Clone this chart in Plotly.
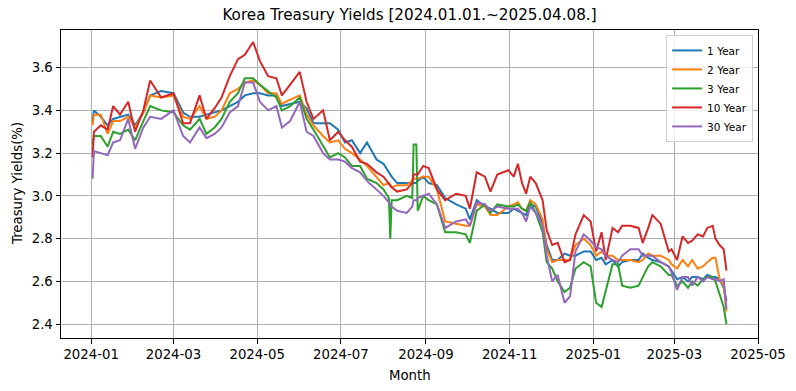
import plotly.graph_objects as go

dates = [
    "2024-01-02", "2024-01-03", "2024-01-08", "2024-01-13", "2024-01-17", "2024-01-22", "2024-01-28",
    "2024-02-02", "2024-02-08", "2024-02-13", "2024-02-21", "2024-03-01", "2024-03-08", "2024-03-13",
    "2024-03-20", "2024-03-25", "2024-03-31", "2024-04-05", "2024-04-11", "2024-04-17", "2024-04-22",
    "2024-04-28", "2024-05-03", "2024-05-09", "2024-05-15", "2024-05-19", "2024-05-25", "2024-06-01",
    "2024-06-06", "2024-06-11", "2024-06-18", "2024-06-23", "2024-06-29", "2024-07-04", "2024-07-09",
    "2024-07-15", "2024-07-20", "2024-07-27", "2024-08-01", "2024-08-05", "2024-08-06", "2024-08-07",
    "2024-08-11", "2024-08-18", "2024-08-22", "2024-08-23", "2024-08-25", "2024-08-26", "2024-08-30",
    "2024-09-03", "2024-09-09", "2024-09-15", "2024-09-23", "2024-09-30", "2024-10-03", "2024-10-08",
    "2024-10-14", "2024-10-18", "2024-10-23", "2024-10-31", "2024-11-04", "2024-11-07", "2024-11-10",
    "2024-11-13", "2024-11-16", "2024-11-20", "2024-11-25", "2024-11-28", "2024-12-02", "2024-12-06",
    "2024-12-11", "2024-12-15", "2024-12-19", "2024-12-25", "2024-12-30", "2025-01-03", "2025-01-07",
    "2025-01-10", "2025-01-15", "2025-01-19", "2025-01-22", "2025-01-28", "2025-02-03", "2025-02-06",
    "2025-02-10", "2025-02-13", "2025-02-19", "2025-02-25", "2025-02-27", "2025-03-03", "2025-03-07",
    "2025-03-11", "2025-03-14", "2025-03-18", "2025-03-22", "2025-03-25", "2025-03-29", "2025-03-31",
    "2025-04-03", "2025-04-06", "2025-04-08",
]

y1 = [3.35, 3.40, 3.37, 3.33, 3.36, 3.37, 3.38, 3.33, 3.39, 3.47, 3.49, 3.48, 3.39, 3.37, 3.37, 3.38, 3.39,
      3.40, 3.42, 3.44, 3.47, 3.48, 3.48, 3.47, 3.47, 3.42, 3.43, 3.44, 3.41, 3.34, 3.34, 3.34, 3.31, 3.25,
      3.26, 3.20, 3.25, 3.17, 3.15, 3.11, 3.10, 3.09, 3.06, 3.06, 3.06, 3.06, 3.06, 3.07, 3.09, 3.06, 3.05,
      2.99, 2.96, 2.94, 2.89, 2.98, 2.95, 2.94, 2.92, 2.92, 2.94, 2.93, 2.92, 2.91, 2.96, 2.95, 2.87, 2.77,
      2.70, 2.70, 2.73, 2.72, 2.72, 2.74, 2.74, 2.70, 2.71, 2.68, 2.70, 2.67, 2.69, 2.70, 2.70, 2.73, 2.71,
      2.70, 2.69, 2.67, 2.65, 2.61, 2.62, 2.60, 2.62, 2.62, 2.61, 2.63, 2.62, 2.62, 2.61, 2.57, 2.51]
y2 = [3.33, 3.38, 3.38, 3.29, 3.35, 3.35, 3.37, 3.32, 3.39, 3.47, 3.46, 3.47, 3.37, 3.36, 3.42, 3.36, 3.37,
      3.40, 3.48, 3.50, 3.53, 3.54, 3.52, 3.48, 3.48, 3.43, 3.45, 3.47, 3.38, 3.33, 3.28, 3.25, 3.26, 3.22,
      3.20, 3.17, 3.14, 3.09, 3.05, 3.06, 3.05, 3.04, 3.05, 3.05, 3.07, 3.08, 3.08, 3.08, 3.09, 3.09, 3.03,
      2.88, 2.87, 2.86, 2.86, 2.96, 2.95, 2.91, 2.91, 2.95, 2.96, 2.97, 2.94, 2.93, 2.98, 2.96, 2.89, 2.75,
      2.69, 2.70, 2.70, 2.70, 2.77, 2.80, 2.77, 2.72, 2.74, 2.72, 2.72, 2.70, 2.70, 2.70, 2.69, 2.70, 2.73,
      2.72, 2.72, 2.70, 2.68, 2.66, 2.70, 2.67, 2.70, 2.66, 2.67, 2.69, 2.71, 2.71, 2.61, 2.58, 2.46]
y3 = [3.24, 3.28, 3.28, 3.23, 3.30, 3.29, 3.31, 3.26, 3.35, 3.42, 3.40, 3.39, 3.33, 3.31, 3.36, 3.29, 3.32,
      3.36, 3.44, 3.48, 3.55, 3.55, 3.52, 3.49, 3.46, 3.40, 3.42, 3.46, 3.36, 3.31, 3.23, 3.18, 3.20, 3.18,
      3.14, 3.14, 3.08, 3.06, 3.03, 2.99, 2.80, 2.98, 2.98, 3.00, 2.99, 3.24, 3.24, 2.93, 3.00, 2.98, 2.96,
      2.83, 2.83, 2.82, 2.78, 2.93, 2.96, 2.92, 2.96, 2.95, 2.95, 2.96, 2.94, 2.93, 2.97, 2.92, 2.83, 2.69,
      2.66, 2.60, 2.55, 2.57, 2.66, 2.69, 2.67, 2.50, 2.48, 2.55, 2.68, 2.68, 2.58, 2.57, 2.58, 2.62, 2.67,
      2.69, 2.67, 2.63, 2.63, 2.58, 2.60, 2.57, 2.60, 2.58, 2.61, 2.62, 2.62, 2.60, 2.54, 2.48, 2.40]
y10 = [3.18, 3.30, 3.33, 3.31, 3.42, 3.38, 3.44, 3.30, 3.40, 3.54, 3.46, 3.48, 3.34, 3.34, 3.47, 3.36, 3.41,
       3.46, 3.56, 3.64, 3.66, 3.72, 3.63, 3.56, 3.55, 3.47, 3.52, 3.58, 3.44, 3.36, 3.40, 3.26, 3.30, 3.26,
       3.23, 3.16, 3.15, 3.11, 3.09, 3.06, 3.05, 3.04, 3.02, 3.03, 3.06, 3.10, 3.10, 3.10, 3.14, 3.13, 3.03,
       2.98, 3.01, 3.00, 2.94, 3.11, 3.09, 3.02, 3.10, 3.12, 3.09, 3.15, 3.06, 3.01, 3.09, 3.06, 2.98, 2.84,
       2.77, 2.78, 2.69, 2.70, 2.82, 2.91, 2.88, 2.74, 2.83, 2.70, 2.85, 2.83, 2.86, 2.86, 2.85, 2.78, 2.85,
       2.91, 2.87, 2.74, 2.75, 2.70, 2.81, 2.78, 2.79, 2.82, 2.81, 2.85, 2.86, 2.80, 2.77, 2.75, 2.65]
y30 = [3.08, 3.21, 3.20, 3.19, 3.25, 3.26, 3.36, 3.22, 3.32, 3.37, 3.36, 3.40, 3.28, 3.25, 3.32, 3.27, 3.29,
       3.32, 3.39, 3.42, 3.53, 3.53, 3.44, 3.40, 3.42, 3.32, 3.35, 3.44, 3.30, 3.28, 3.20, 3.17, 3.17, 3.16,
       3.13, 3.11, 3.07, 3.03, 3.00, 2.97, 2.96, 2.95, 2.93, 2.92, 2.95, 2.98, 2.98, 2.99, 3.00, 3.01, 2.96,
       2.85, 2.88, 2.89, 2.86, 2.97, 2.96, 2.93, 2.95, 2.94, 2.94, 2.94, 2.92, 2.88, 2.95, 2.92, 2.86, 2.72,
       2.60, 2.63, 2.50, 2.53, 2.74, 2.82, 2.79, 2.76, 2.75, 2.72, 2.70, 2.69, 2.72, 2.75, 2.75, 2.72, 2.72,
       2.72, 2.69, 2.67, 2.64, 2.56, 2.62, 2.62, 2.58, 2.62, 2.60, 2.62, 2.61, 2.61, 2.60, 2.61, 2.47]

series_names = ["1 Year", "2 Year", "3 Year", "10 Year", "30 Year"]
series_values = [y1, y2, y3, y10, y30]
colors = ["#1f77b4", "#ff7f0e", "#2ca02c", "#d62728", "#9467bd"]

y_ticks = [2.4, 2.6, 2.8, 3.0, 3.2, 3.4, 3.6]
y_tick_labels = ["2.4", "2.6", "2.8", "3.0", "3.2", "3.4", "3.6"]
x_ticks = ["2024-01-01", "2024-03-01", "2024-05-01", "2024-07-01", "2024-09-01",
           "2024-11-01", "2025-01-01", "2025-03-01", "2025-05-01"]
x_tick_labels = ["2024-01", "2024-03", "2024-05", "2024-07", "2024-09",
                 "2024-11", "2025-01", "2025-03", "2025-05"]

fig = go.Figure()
for name, vals, c in zip(series_names, series_values, colors):
    fig.add_trace(go.Scatter(x=dates, y=vals, mode="lines", name=name,
                             line=dict(color=c, width=2)))

font = "DejaVu Sans, Verdana, sans-serif"
L, R, T, B = 61, 38, 30, 53
fig.update_layout(
    width=796, height=391,
    margin=dict(l=L, r=R, t=T, b=B, autoexpand=False),
    paper_bgcolor="white", plot_bgcolor="white",
    font=dict(family=font, size=13.3, color="black"),
    title=dict(text="Korea Treasury Yields [2024.01.01.~2025.04.08.]",
               x=(L + (796 - L - R) / 2) / 796, xref="container", xanchor="center",
               y=1 - 14.5 / 391, yref="container", yanchor="middle",
               font=dict(size=15.2, color="black", family=font)),
    showlegend=True,
    legend=dict(x=0.993, y=0.984, xanchor="right", yanchor="top",
                bgcolor="rgba(255,255,255,0.8)", bordercolor="#d0d0d0", borderwidth=1,
                font=dict(size=10.5, family=font), tracegroupgap=0, itemwidth=30),
    annotations=[
        dict(text="Month", xref="paper", yref="paper", x=0.5, y=0, xanchor="center",
             yanchor="middle", yshift=-37, showarrow=False, font=dict(size=13.3)),
        dict(text="Treasury Yields(%)", xref="paper", yref="paper", x=0, y=0.5,
             xanchor="center", yanchor="middle", xshift=-(L - 17), textangle=-90,
             showarrow=False, font=dict(size=13.3)),
    ],
)
fig.update_xaxes(
    range=["2023-12-10", "2025-05-01"], automargin=False,
    tickmode="array", tickvals=x_ticks, ticktext=x_tick_labels,
    showgrid=True, gridcolor="#b0b0b0", gridwidth=1,
    showline=True, linecolor="black", linewidth=1, mirror=True,
    ticks="outside", ticklen=4.5, tickcolor="black", tickfont=dict(size=13.3),
    zeroline=False,
)
fig.update_yaxes(
    range=[2.335, 3.776], automargin=False,
    tickmode="array", tickvals=y_ticks, ticktext=y_tick_labels,
    showgrid=True, gridcolor="#b0b0b0", gridwidth=1,
    showline=True, linecolor="black", linewidth=1, mirror=True,
    ticks="outside", ticklen=4.5, tickcolor="black", tickfont=dict(size=13.3),
    zeroline=False,
)

fig.write_html(
    "out.html",
    config={"displayModeBar": False},
    post_script="document.body.style.margin='0';document.body.style.overflow='hidden';",
)
